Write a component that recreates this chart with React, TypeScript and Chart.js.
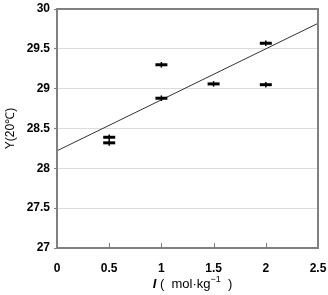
import React, { useEffect, useRef } from "react";
import { Chart, registerables } from "chart.js";

Chart.register(...registerables);

// Measured surface tension vs. ionic strength
const ionicStrength = [0.5, 0.5, 1, 1, 1.5, 2, 2];
const tension = [28.39, 28.32, 29.3, 28.88, 29.06, 29.57, 29.05];
const tensionErr = [0.035, 0.035, 0.035, 0.035, 0.035, 0.035, 0.035];

// Fitted trend line end points
const trendX = [0, 2.5];
const trendY = [28.22, 29.82];

const xTicks = [0, 0.5, 1, 1.5, 2, 2.5];
const yTicks = [27, 27.5, 28, 28.5, 29, 29.5, 30];

const FONT = "'Liberation Sans', Arial, sans-serif";

const framePlugin = {
  id: "frame",
  afterDatasetsDraw(chart: any) {
    const { ctx, chartArea, scales } = chart;
    const ds = chart.data.datasets[0];
    const ys = scales.y;
    const xs = scales.x;
    ctx.save();
    // vertical error bars
    ctx.strokeStyle = "#000";
    ctx.lineWidth = 1.5;
    ds.data.forEach((p: any, i: number) => {
      const px = xs.getPixelForValue(p.x);
      const e = tensionErr[i];
      ctx.beginPath();
      ctx.moveTo(px, ys.getPixelForValue(p.y + e));
      ctx.lineTo(px, ys.getPixelForValue(p.y - e));
      ctx.stroke();
    });
    // inward x tick marks
    ctx.strokeStyle = "#808080";
    ctx.lineWidth = 1;
    xTicks.slice(1, -1).forEach((v) => {
      const px = Math.round(xs.getPixelForValue(v)) + 0.5;
      ctx.beginPath();
      ctx.moveTo(px, chartArea.bottom);
      ctx.lineTo(px, chartArea.bottom - 5);
      ctx.stroke();
    });
    // plot frame
    ctx.strokeStyle = "#808080";
    ctx.lineWidth = 2;
    ctx.strokeRect(
      chartArea.left,
      chartArea.top,
      chartArea.right - chartArea.left,
      chartArea.bottom - chartArea.top
    );

    // x-axis title with italic symbol and superscript
    ctx.fillStyle = "#000";
    ctx.textBaseline = "alphabetic";
    const cx = (chartArea.left + chartArea.right) / 2 + 5;
    const by = 288;
    const parts: [string, string, number][] = [
      ["I", `italic bold 13px ${FONT}`, 0],
      [" (  mol·kg", `13px ${FONT}`, 0],
      ["−1", `9px ${FONT}`, -6],
      ["  )", `13px ${FONT}`, 0],
    ];
    let total = 0;
    parts.forEach(([t, f]) => {
      ctx.font = f;
      total += ctx.measureText(t).width;
    });
    let x = cx - total / 2;
    parts.forEach(([t, f, dy]) => {
      ctx.font = f;
      ctx.fillText(t, x, by + dy);
      x += ctx.measureText(t).width;
    });
    ctx.restore();
  },
};

export default function App() {
  const ref = useRef<HTMLCanvasElement | null>(null);

  useEffect(() => {
    if (!ref.current) return;
    const chart = new Chart(ref.current, {
      type: "scatter",
      data: {
        datasets: [
          {
            label: "measured",
            data: ionicStrength.map((x, i) => ({ x, y: tension[i] })),
            pointStyle: "line",
            pointRadius: 6,
            pointBorderWidth: 3,
            borderColor: "#000",
            backgroundColor: "#000",
          },
          {
            label: "trend",
            type: "line",
            data: trendX.map((x, i) => ({ x, y: trendY[i] })),
            borderColor: "#333",
            borderWidth: 1,
            pointRadius: 0,
            fill: false,
          } as any,
        ],
      },
      options: {
        animation: false,
        responsive: false,
        layout: { padding: { top: 8, right: 10, left: 0, bottom: 0 } },
        plugins: {
          legend: { display: false },
          tooltip: { enabled: false },
        },
        scales: {
          x: {
            type: "linear",
            min: 0,
            max: 2.5,
            afterBuildTicks: (s: any) => {
              s.ticks = xTicks.map((v) => ({ value: v }));
            },
            afterFit: (s: any) => {
              s.height = 47;
              s.paddingLeft = 0;
              s.paddingRight = 0;
            },
            grid: { display: false },
            border: { display: false },
            ticks: {
              color: "#000",
              padding: 5,
              font: { family: FONT, size: 12, weight: "bold" },
              callback: (v: any) => String(v),
              maxRotation: 0,
            },
          },
          y: {
            type: "linear",
            min: 27,
            max: 30,
            afterBuildTicks: (s: any) => {
              s.ticks = yTicks.map((v) => ({ value: v }));
            },
            afterFit: (s: any) => {
              s.width = 57;
              s.paddingTop = 0;
              s.paddingBottom = 0;
            },
            grid: { color: "#dcdcdc", lineWidth: 1, tickLength: 3, tickColor: "#808080" },
            border: { display: false },
            ticks: {
              color: "#000",
              padding: 4,
              font: { family: FONT, size: 12, weight: "bold" },
              callback: (v: any) => String(v),
            },
            title: {
              display: true,
              text: "Y(20℃)",
              color: "#000",
              font: { family: FONT, size: 12 },
              padding: { top: 3, bottom: 2 },
            },
          },
        },
      },
      plugins: [framePlugin],
    });
    return () => chart.destroy();
  }, []);

  return (
    <div style={{ position: "absolute", left: 0, top: 0, width: 328, height: 295, background: "#fff" }}>
      <canvas ref={ref} width={328} height={295} />
    </div>
  );
}
